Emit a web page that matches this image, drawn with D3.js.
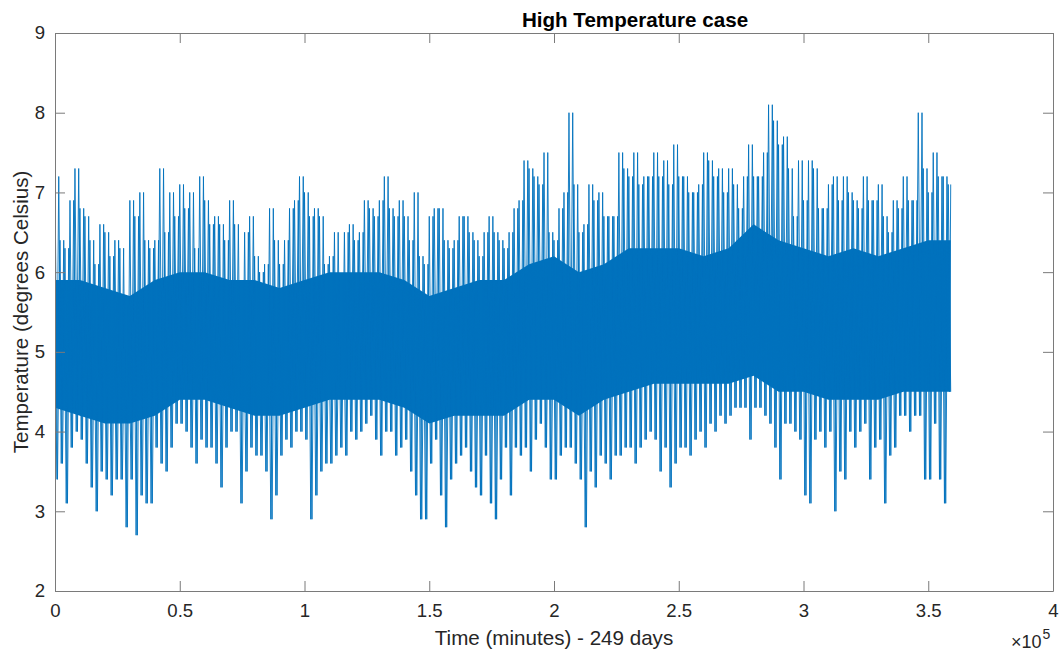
<!DOCTYPE html>
<html><head><meta charset="utf-8">
<script src="https://cdn.jsdelivr.net/npm/d3@7"></script>
<style>
body{margin:0;background:#fff;}
svg{display:block;}
text{font-family:"Liberation Sans", Arial, Helvetica, sans-serif;}
</style>
</head><body>
<svg id="chart" width="1063" height="656"></svg>
<script>
// ---- data ----
const colStep = 2000;      // minutes per envelope column
const endTime = 359000;    // last sample (minutes)
const hiVals = [
 7.2,6.4,6.3,6.9,7.3,6.8,6.7,6.4,6.1,6.6,6.5,6.2,6.4,6.3,5.7,6.9,6.7,7.0,6.4,6.3,6.4,7.3,6.5,7.0,6.7,7.1,6.8,7.0,6.3,7.2,
 6.9,6.6,6.7,6.6,6.4,6.9,6.6,5.9,6.5,6.7,6.2,6.0,6.1,6.8,6.4,6.1,6.4,6.8,6.9,7.2,7.0,6.7,6.8,6.7,6.1,6.2,6.5,5.9,6.5,6.6,
 6.4,6.5,6.9,6.8,6.7,6.9,7.2,6.8,6.7,6.9,6.7,6.4,7.0,6.2,6.1,6.7,6.8,6.8,6.4,6.3,6.4,6.7,6.7,6.5,6.4,6.2,6.5,6.7,6.5,6.4,
 6.3,6.5,6.8,6.9,7.4,7.3,7.2,7.1,7.5,6.5,6.4,6.8,7.0,8.0,7.1,6.5,6.6,7.1,6.9,7.0,6.7,6.7,6.7,7.5,7.3,7.2,7.5,7.1,7.2,7.2,
 7.5,7.2,7.4,7.1,7.6,7.2,7.2,7.0,7.0,7.1,7.5,7.4,7.2,7.3,7.0,7.3,7.1,6.8,7.2,7.6,7.2,7.2,7.5,8.1,7.9,7.6,7.7,7.3,6.7,7.4,
 6.9,7.4,7.3,6.8,6.8,7.1,7.2,6.9,7.2,7.0,6.9,6.8,7.2,6.9,6.9,7.1,6.7,6.5,6.9,6.8,7.2,6.9,6.9,8.0,7.3,7.0,7.5,7.2,7.2,7.1
];
const loVals = [
 3.4,3.6,3.1,3.8,4.0,3.9,3.6,3.3,3.0,3.5,3.4,3.2,3.4,3.4,2.8,3.4,2.7,3.2,3.1,3.1,3.8,3.6,3.5,3.8,4.1,4.1,4.0,3.8,3.6,3.9,
 3.8,3.8,3.6,3.3,3.8,4.0,4.0,3.1,3.5,3.8,3.7,3.7,3.5,2.9,3.2,3.7,3.9,3.8,4.0,4.0,3.9,2.9,3.2,3.5,3.6,3.6,3.7,3.8,3.7,4.0,
 3.9,4.0,4.1,4.2,3.9,3.7,4.0,4.0,3.7,3.8,3.9,3.5,3.2,2.9,2.9,3.6,3.9,3.2,2.8,3.4,3.6,3.7,3.8,3.5,3.3,3.2,3.7,3.1,2.9,3.4,
 3.8,3.2,3.8,3.7,3.8,3.5,3.9,4.1,3.8,3.4,3.4,3.7,3.8,3.8,3.6,3.4,2.8,3.5,3.3,3.7,3.6,3.4,3.7,3.7,3.8,3.8,3.6,3.8,3.9,4.0,
 3.9,3.5,3.8,3.3,3.6,3.8,3.8,3.7,3.9,4.0,3.8,4.1,4.0,4.2,4.1,4.2,4.3,4.3,4.3,3.9,4.3,4.3,4.2,4.1,3.8,3.4,4.1,4.1,4.0,3.9,
 3.2,3.1,3.9,4.0,3.8,4.0,3.0,3.5,3.4,4.0,3.8,4.0,4.1,3.4,3.8,3.9,3.1,3.7,3.8,4.2,4.2,4.0,4.2,4.2,3.4,3.4,4.1,3.4,3.1,4.5
];
const coreStep = 10000;    // minutes per core-band point (dense part of the trace)
const coreHi = [5.9,5.9,5.8,5.7,5.9,6.0,6.0,5.9,5.9,5.8,5.9,6.0,6.0,6.0,5.9,5.7,5.8,5.9,5.9,6.1,
                6.2,6.0,6.1,6.3,6.3,6.3,6.2,6.3,6.6,6.4,6.3,6.2,6.3,6.2,6.3,6.4,6.4];
const coreLo = [4.3,4.2,4.1,4.1,4.2,4.4,4.4,4.3,4.2,4.2,4.3,4.4,4.4,4.4,4.3,4.1,4.2,4.2,4.2,4.4,
                4.4,4.2,4.4,4.5,4.6,4.6,4.6,4.6,4.7,4.5,4.5,4.4,4.4,4.4,4.5,4.5,4.5];
const xTicks = [0,50000,100000,150000,200000,250000,300000,350000,400000];
const yTicks = [2,3,4,5,6,7,8,9];
const titleText = "High Temperature case";
const xLabelText = "Time (minutes) - 249 days";
const yLabelText = "Temperature (degrees Celsius)";
const exponentBase = "\u00d710";
const exponentPow = "5";

// ---- layout ----
const L = 55, R = 1053, T = 33, B = 591;
const lineColor = "#0072BD";
const axisColor = "#262626";

const svg = d3.select("#chart");
const x = d3.scaleLinear().domain([0, 400000]).range([L, R]);
const y = d3.scaleLinear().domain([2, 9]).range([B, T]);

svg.append("defs").append("clipPath").attr("id","clip")
  .append("rect").attr("x",L).attr("y",T).attr("width",R-L).attr("height",B-T);

const plot = svg.append("g").attr("clip-path","url(#clip)");

// dense core band
const core = coreHi.map((h,i)=>({t: Math.min(i*coreStep, endTime), h, l: coreLo[i]}));
plot.append("path")
  .datum(core)
  .attr("fill", lineColor)
  .attr("d", d3.area().x(d=>x(d.t)).y0(d=>y(d.l)).y1(d=>y(d.h)));

// signal trace: each column swings between its max and its min (two passes, offset)
const ptsA = [], ptsB = [];
hiVals.forEach((h,i)=>{
  const t0 = i*colStep;
  ptsA.push({t: t0, v: h});
  ptsA.push({t: Math.min(t0 + 1000, endTime), v: loVals[i]});
  ptsB.push({t: Math.min(t0 + 500, endTime), v: loVals[i]});
  ptsB.push({t: Math.min(t0 + 1500, endTime), v: h});
});
const lineGen = d3.line().x(d=>x(d.t)).y(d=>y(d.v));
[ptsA, ptsB].forEach(p => plot.append("path")
  .datum(p)
  .attr("fill","none")
  .attr("stroke", lineColor)
  .attr("stroke-width", 0.9)
  .attr("d", lineGen));

// ---- axes ----
const fmtX = d => d3.format("~g")(d/100000);
function styleAxis(g){
  g.select(".domain").attr("stroke","#7a7a7a").attr("stroke-width",1);
  g.selectAll(".tick line").attr("stroke","#7a7a7a").attr("stroke-width",1);
  g.selectAll(".tick text").attr("fill",axisColor).style("font-size","18.6px")
    .style("font-family","'Liberation Sans', Arial, sans-serif");
}
svg.append("g").attr("transform",`translate(0,${B})`)
  .call(d3.axisBottom(x).tickValues(xTicks).tickFormat(fmtX).tickSizeInner(-10).tickSizeOuter(0).tickPadding(13))
  .call(styleAxis);
svg.append("g").attr("transform",`translate(0,${T})`)
  .call(d3.axisTop(x).tickValues(xTicks).tickFormat("").tickSizeInner(-10).tickSizeOuter(0))
  .call(styleAxis);
svg.append("g").attr("transform",`translate(${L},0)`)
  .call(d3.axisLeft(y).tickValues(yTicks).tickFormat(d3.format("d")).tickSizeInner(-10).tickSizeOuter(0).tickPadding(10))
  .call(styleAxis);
svg.append("g").attr("transform",`translate(${R},0)`)
  .call(d3.axisRight(y).tickValues(yTicks).tickFormat("").tickSizeInner(-10).tickSizeOuter(0))
  .call(styleAxis);

// ---- labels ----
svg.append("text").attr("x",635).attr("y",27).attr("text-anchor","middle")
  .style("font-size","20.6px").style("font-weight","bold").attr("fill","#000").text(titleText);
svg.append("text").attr("x",554).attr("y",645).attr("text-anchor","middle")
  .style("font-size","20.6px").attr("fill",axisColor).text(xLabelText);
svg.append("text").attr("transform","translate(28,312) rotate(-90)").attr("text-anchor","middle")
  .style("font-size","20.6px").attr("fill",axisColor).text(yLabelText);
const ex = svg.append("text").attr("x",1011).attr("y",648).attr("fill",axisColor).style("font-size","18px");
ex.append("tspan").text(exponentBase);
ex.append("tspan").attr("dy",-9).attr("dx",1).style("font-size","14px").text(exponentPow);
</script>
</body></html>
